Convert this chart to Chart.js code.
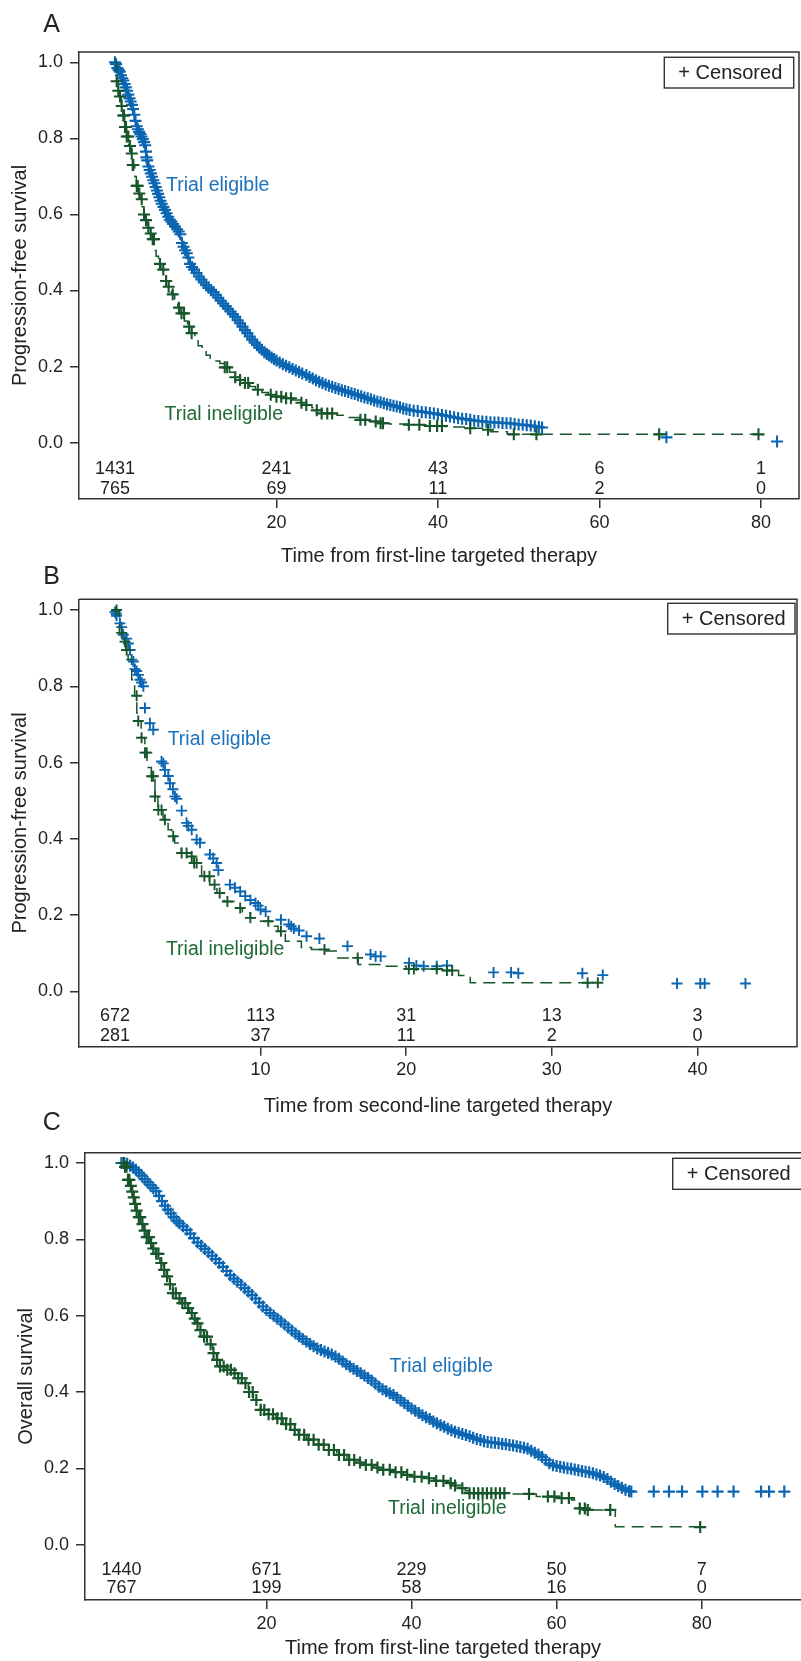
<!DOCTYPE html>
<html><head><meta charset="utf-8">
<script src="https://cdn.jsdelivr.net/npm/chart.js@4.4.1/dist/chart.umd.min.js"></script>
<style>
html,body{margin:0;padding:0;background:#ffffff;overflow:hidden;}
#wrap{position:relative;width:801px;height:1661px;background:#fff;}
canvas{position:absolute;left:0;}
</style></head><body><div id="wrap">
<canvas id="cA" width="801" height="575" style="top:0px;width:801px;height:575px"></canvas>
<canvas id="cB" width="801" height="560" style="top:565px;width:801px;height:560px"></canvas>
<canvas id="cC" width="801" height="556" style="top:1105px;width:801px;height:556px"></canvas>
</div>
<script>
// ---------- shared text / ticks ----------
const panelLetters = ['A', 'B', 'C'];
const groupLabels = ['Trial eligible', 'Trial ineligible'];
const censorLabel = '+ Censored';
const yTickValues = [0, 0.2, 0.4, 0.6, 0.8, 1.0];
const yTickLabels = ['0.0', '0.2', '0.4', '0.6', '0.8', '1.0'];

// ---------- Panel A : PFS from first-line ----------
const aXTitle = 'Time from first-line targeted therapy';
const aYTitle = 'Progression-free survival';
const aXTicks = [20, 40, 60, 80];
const aXTickLabels = ['20', '40', '60', '80'];
const aRiskTimes = [0, 20, 40, 60, 80];
const aRiskEligible = [1431, 241, 43, 6, 1];
const aRiskIneligible = [765, 69, 11, 2, 0];
// trial eligible: censored marks (time, survival)
const aEligT = [0.0,0.15,0.3,0.45,0.6,0.75,0.9,1.05,1.2,1.35,
 1.5,1.65,1.8,1.95,2.1,2.25,2.4,2.55,2.7,2.85,
 3.0,3.15,3.3,3.45,3.6,3.75,3.85,3.9,4.0,4.15,
 4.3,4.45,4.6,4.75,4.9,5.05,5.2,5.35,5.5,5.65,
 5.8,6.0,6.2,6.4,6.6,6.8,7.0,7.2,7.45,7.7,
 7.9,8.1,8.3,8.5,8.7,8.9,9.1,9.3,9.55,9.8,
 10.1,10.4,10.7,11.0,11.3,11.6,11.9,12.2,12.5,12.8,
 13.1,13.4,13.7,14.0,14.3,14.6,14.9,15.2,15.5,15.8,
 16.1,16.4,16.7,17.0,17.3,17.6,17.9,18.2,18.5,18.8,
 19.1,19.4,19.7,20.0,20.4,20.8,21.2,21.6,22.0,22.4,
 22.8,23.2,23.7,24.1,24.5,24.9,25.3,25.7,26.1,26.5,
 26.9,27.3,27.7,28.1,28.5,28.9,29.3,29.7,30.1,30.5,
 30.9,31.3,31.7,32.1,32.5,32.9,33.3,33.7,34.1,34.5,
 34.9,35.3,35.7,36.1,36.5,37.0,37.5,38.0,38.5,39.0,
 39.5,40.0,40.5,41.0,41.5,42.0,42.5,43.0,43.5,44.0,
 44.5,45.0,45.5,46.0,46.5,47.0,47.5,48.0,48.5,49.0,
 49.5,50.0,50.5,51.0,51.5,52.0,52.5,52.9,68.3,82.0];
const aEligS = [1.0,0.995,0.985,0.98,0.975,0.966,0.958,0.952,0.943,0.934,
 0.925,0.915,0.905,0.897,0.888,0.877,0.862,0.846,0.832,0.824,
 0.817,0.811,0.805,0.798,0.79,0.782,0.765,0.75,0.742,0.726,
 0.717,0.708,0.699,0.69,0.682,0.672,0.663,0.654,0.645,0.636,
 0.628,0.62,0.612,0.603,0.594,0.586,0.581,0.575,0.568,0.561,
 0.555,0.548,0.525,0.515,0.506,0.498,0.487,0.47,0.462,0.455,
 0.446,0.437,0.429,0.421,0.414,0.407,0.401,0.396,0.389,0.381,
 0.373,0.366,0.359,0.352,0.345,0.338,0.331,0.322,0.314,0.305,
 0.296,0.288,0.279,0.271,0.263,0.256,0.25,0.244,0.238,0.233,
 0.229,0.224,0.22,0.216,0.211,0.206,0.202,0.198,0.194,0.19,
 0.186,0.182,0.178,0.173,0.169,0.164,0.16,0.157,0.153,0.15,
 0.147,0.144,0.141,0.138,0.136,0.133,0.13,0.128,0.125,0.122,
 0.119,0.117,0.114,0.111,0.108,0.106,0.104,0.101,0.099,0.097,
 0.095,0.093,0.09,0.088,0.086,0.084,0.083,0.081,0.08,0.078,
 0.077,0.075,0.073,0.071,0.069,0.067,0.065,0.063,0.062,0.06,
 0.058,0.057,0.056,0.055,0.054,0.053,0.053,0.052,0.051,0.051,
 0.049,0.048,0.047,0.046,0.045,0.043,0.041,0.04,0.014,0.003];
// trial ineligible: Kaplan-Meier steps
const aInelT = [0,0.2,0.4,0.6,0.8,1.0,1.2,1.45,1.7,1.95,
 2.2,2.45,2.65,2.9,3.1,3.35,3.6,3.85,4.1,4.35,
 4.6,4.85,5.1,5.4,5.7,6.0,6.3,6.65,7.0,7.4,
 7.8,8.2,8.6,9.0,9.5,9.9,10.3,10.8,11.3,11.8,
 12.4,13.0,13.6,14.2,14.9,15.5,16.1,16.7,17.4,18.2,
 19.0,20.0,21.0,22.0,23.0,23.7,24.4,25.0,25.6,27.5,
 29.0,30.3,31.5,32.6,34.0,36.2,38.5,41.0,43.5,45.5,
 46.5,48.6,79.7];
const aInelS = [1.0,0.95,0.925,0.91,0.885,0.86,0.83,0.805,0.78,0.76,
 0.73,0.70,0.675,0.655,0.64,0.62,0.6,0.585,0.565,0.55,
 0.535,0.505,0.49,0.47,0.455,0.44,0.425,0.41,0.39,0.37,
 0.355,0.34,0.32,0.305,0.288,0.27,0.255,0.242,0.23,0.222,
 0.215,0.208,0.198,0.185,0.172,0.165,0.157,0.148,0.139,0.132,
 0.126,0.121,0.117,0.112,0.105,0.099,0.092,0.085,0.077,0.072,
 0.066,0.06,0.056,0.051,0.049,0.047,0.044,0.041,0.038,0.034,
 0.029,0.022,0.022];
const aInelCensT = [0.22,0.42,0.63,0.84,1.04,1.13,1.25,1.37,1.46,1.66,1.87,2.08,2.2,2.28,2.7,2.82,3.02,3.32,3.6,3.85,
 4.14,4.43,4.68,4.84,5.58,5.99,6.34,6.65,7.16,7.93,8.24,8.56,9.19,9.5,13.6,13.9,14.9,15.5,16.1,16.5,
 17.7,19.3,20,20.6,21.2,21.8,23.1,23.7,25,25.6,26.3,26.9,30.4,31,32.3,32.9,33.2,36.4,37.7,39,
 39.9,40.5,44,46.2,49.4,52.2,67.4,79.7];

// ---------- Panel B : PFS from second-line ----------
const bXTitle = 'Time from second-line targeted therapy';
const bYTitle = 'Progression-free survival';
const bXTicks = [10, 20, 30, 40];
const bXTickLabels = ['10', '20', '30', '40'];
const bRiskTimes = [0, 10, 20, 30, 40];
const bRiskEligible = [672, 113, 31, 13, 3];
const bRiskIneligible = [281, 37, 11, 2, 0];
const bEligT = [0.0,0.08,0.11,0.34,0.46,0.57,0.8,0.92,1.03,1.15,
 1.26,1.37,1.49,1.6,1.72,1.83,1.95,2.06,2.4,2.63,
 3.2,3.32,3.43,3.66,3.78,3.98,4.12,4.24,4.58,4.92,
 5.04,5.27,5.61,5.84,6.52,6.75,6.98,7.1,7.9,8.24,
 8.6,8.95,9.3,9.65,9.83,10.0,10.35,11.4,11.93,12.1,
 12.28,12.64,13.16,14.04,15.97,17.55,17.9,18.25,20.2,20.7,
 21.2,22.1,22.8,26.0,27.2,27.7,32.1,33.5,38.6,40.2,
 40.5,43.3];
const bEligS = [0.995,0.99,0.985,0.965,0.955,0.935,0.925,0.912,0.895,0.87,
 0.865,0.845,0.84,0.83,0.817,0.81,0.8,0.743,0.703,0.686,
 0.603,0.598,0.581,0.565,0.546,0.53,0.511,0.505,0.474,0.442,
 0.434,0.424,0.398,0.39,0.359,0.349,0.337,0.318,0.28,0.272,
 0.262,0.25,0.24,0.232,0.225,0.215,0.21,0.188,0.176,0.171,
 0.165,0.16,0.145,0.139,0.119,0.097,0.092,0.092,0.075,0.068,
 0.066,0.066,0.068,0.05,0.05,0.048,0.048,0.043,0.021,0.021,
 0.021,0.021];
const bInelT = [0,0.3,0.65,0.75,0.9,1.15,1.35,1.5,1.6,1.8,
 2.05,2.2,2.5,2.75,2.95,3.3,3.65,3.9,4.1,4.55,
 5.1,5.4,5.95,6.5,7.0,7.5,8.2,8.75,9.3,10.0,
 10.7,11.2,11.7,12.8,13.5,14.5,15.2,16.7,18.4,20.0,
 22.5,23.6,24.4,33.2];
const bInelS = [1.0,0.94,0.917,0.895,0.87,0.817,0.775,0.73,0.709,0.665,
 0.626,0.587,0.564,0.511,0.476,0.45,0.424,0.407,0.389,0.363,
 0.354,0.337,0.302,0.28,0.258,0.236,0.219,0.206,0.193,0.184,
 0.171,0.158,0.132,0.115,0.11,0.106,0.088,0.071,0.066,0.059,
 0.055,0.042,0.023,0.023];
const bInelCensT = [0.11,0.46,0.69,0.8,1.49,1.6,1.83,2.06,2.18,2.52,2.63,2.75,2.98,3.2,3.43,4.0,4.58,4.92,5.27,5.44,
 5.61,6.14,6.49,6.84,7.19,7.72,8.6,9.3,10.53,11.4,14.39,16.67,20.18,20.53,22.1,22.8,23.16,32.46,33.16];

// ---------- Panel C : OS from first-line ----------
const cXTitle = 'Time from first-line targeted therapy';
const cYTitle = 'Overall survival';
const cXTicks = [20, 40, 60, 80];
const cXTickLabels = ['20', '40', '60', '80'];
const cRiskTimes = [0, 20, 40, 60, 80];
const cRiskEligible = [1440, 671, 229, 50, 7];
const cRiskIneligible = [767, 199, 58, 16, 0];
const cEligT = [0.0,0.4,0.8,1.2,1.6,2.0,2.4,2.8,3.2,3.6,
 4.0,4.4,4.8,5.2,5.6,6.0,6.4,6.8,7.2,7.6,
 8.0,8.5,9.0,9.5,10.0,10.5,11.0,11.5,12.0,12.5,
 13.0,13.5,14.0,14.5,15.0,15.5,16.0,16.5,17.0,17.5,
 18.0,18.5,19.0,19.5,20.0,20.5,21.0,21.5,22.0,22.5,
 23.0,23.5,24.0,24.5,25.0,25.5,26.0,26.5,27.0,27.5,
 28.0,28.5,29.0,29.5,30.0,30.5,31.0,31.5,32.0,32.5,
 33.0,33.5,34.0,34.5,35.0,35.5,36.0,36.5,37.0,37.5,
 38.0,38.5,39.0,39.5,40.0,40.5,41.0,41.5,42.0,42.5,
 43.0,43.5,44.0,44.5,45.0,45.5,46.0,46.5,47.0,47.5,
 48.0,48.5,49.0,49.5,50.0,50.5,51.0,51.5,52.0,52.5,
 53.0,53.5,54.0,54.5,55.0,55.5,56.0,56.5,57.0,57.5,
 58.0,58.5,59.0,59.5,60.0,60.5,61.0,61.5,62.0,62.5,
 63.0,63.5,64.0,64.5,65.0,65.5,66.0,66.5,67.0,67.5,
 68.0,68.5,69.0,69.5,70.0,70.3,73.4,75.5,77.3,80.1,
 82.2,84.4,88.2,89.3,91.4];
const cEligS = [1.0,1.0,0.998,0.993,0.988,0.982,0.975,0.967,0.958,0.95,
 0.942,0.934,0.926,0.914,0.9,0.888,0.878,0.868,0.858,0.849,
 0.842,0.834,0.825,0.815,0.803,0.792,0.783,0.775,0.766,0.757,
 0.748,0.738,0.728,0.717,0.706,0.697,0.689,0.681,0.672,0.663,
 0.654,0.645,0.634,0.624,0.615,0.607,0.6,0.592,0.585,0.577,
 0.569,0.561,0.553,0.546,0.539,0.532,0.526,0.52,0.514,0.51,
 0.506,0.502,0.498,0.493,0.487,0.48,0.473,0.467,0.461,0.455,
 0.449,0.443,0.437,0.43,0.422,0.414,0.407,0.402,0.397,0.392,
 0.385,0.378,0.371,0.364,0.357,0.351,0.345,0.339,0.334,0.329,
 0.323,0.318,0.313,0.309,0.304,0.3,0.296,0.293,0.29,0.287,
 0.284,0.28,0.277,0.274,0.271,0.269,0.268,0.267,0.266,0.264,
 0.263,0.261,0.26,0.258,0.256,0.254,0.251,0.246,0.241,0.236,
 0.23,0.222,0.213,0.208,0.206,0.204,0.202,0.2,0.199,0.197,
 0.195,0.193,0.191,0.19,0.187,0.184,0.181,0.177,0.172,0.165,
 0.159,0.154,0.149,0.144,0.14,0.139,0.139,0.139,0.139,0.139,
 0.139,0.139,0.139,0.139,0.139];
const cInelT = [0,0.5,0.9,1.2,1.4,1.65,1.85,2.1,2.35,2.65,
 3.0,3.45,3.9,4.3,4.7,5.3,5.75,6.2,6.6,7.1,
 7.7,8.3,8.9,9.4,9.9,10.3,10.8,11.3,11.9,12.6,
 13.1,13.6,14.5,15.4,16.1,16.8,17.5,18.2,19.2,20.3,
 21.3,22.3,23.4,24.4,25.5,26.9,28.3,29.7,31.1,32.2,
 33.3,34.7,36.1,37.5,38.9,40.3,41.7,43.1,44.5,45.6,
 46.7,47.4,48.0,53.7,57.2,60.7,62.1,63.2,64.3,68.1,
 79.8];
const cInelS = [1.0,0.99,0.956,0.94,0.925,0.91,0.893,0.875,0.858,0.84,
 0.823,0.806,0.79,0.776,0.762,0.738,0.72,0.703,0.682,0.659,
 0.645,0.633,0.62,0.607,0.592,0.58,0.562,0.545,0.525,0.502,
 0.484,0.467,0.458,0.449,0.436,0.423,0.4,0.379,0.353,0.342,
 0.331,0.316,0.301,0.288,0.275,0.262,0.248,0.235,0.222,0.215,
 0.209,0.202,0.196,0.19,0.183,0.178,0.174,0.167,0.161,0.155,
 0.148,0.141,0.135,0.133,0.126,0.122,0.117,0.095,0.091,0.047,
 0.046];
const cInelCensT = [0.3,0.5,0.7,0.9,1.1,1.3,1.5,1.7,1.9,2.1,2.4,2.6,2.9,3.2,3.5,3.8,4.1,4.4,4.8,5.1,
 5.5,5.9,6.3,6.7,7.1,7.5,8.0,8.4,8.8,9.2,9.7,10.1,10.5,10.9,11.4,11.8,12.3,12.7,13.2,13.6,
 14.1,14.6,15.1,15.6,16.1,16.6,17.1,17.6,18.1,18.6,19.2,19.7,20.3,20.9,21.5,22.1,22.7,23.3,23.9,24.5,
 25.2,25.8,26.5,27.2,27.9,28.6,29.3,30.0,30.7,31.4,32.1,32.9,33.7,34.5,35.3,36.1,37.0,37.8,38.6,39.4,
 40.4,41.4,42.4,43.4,44.4,45.4,46.0,47.0,48.0,48.6,49.2,49.8,50.4,51.0,51.6,52.2,52.8,56.2,58.8,59.7,
 60.7,61.7,63.2,63.9,64.3,67.4,79.8];

// ---------- styling ----------
const FONT = '"Liberation Sans", Arial, Helvetica, sans-serif';
Chart.defaults.font.family = FONT;
const INK = '#222222', AXIS = '#333333';
const BLUE = '#0a66b2', BLUE_TXT = '#1c72bc';
const GREEN = '#17552b', GREEN_TXT = '#1f6a37';

function stepAt(T, S, t) {
  let v = S[0];
  for (let i = 0; i < T.length; i++) { if (T[i] <= t + 1e-9) v = S[i]; else break; }
  return v;
}
function pts(T, S) {
  const n = Math.min(T.length, S.length), out = [];
  for (let i = 0; i < n; i++) out.push({x: T[i], y: S[i]});
  return out;
}
function censorPts(CT, T, S) { return CT.map(t => ({x: t, y: stepAt(T, S, t)})); }

function annotPlugin(P) {
  return {
    id: 'annot' + P.letter,
    afterDraw(chart) {
      const ctx = chart.ctx, ca = chart.chartArea, xs = chart.scales.x, ys = chart.scales.y;
      ctx.save();
      // remaining frame sides
      ctx.strokeStyle = AXIS; ctx.lineWidth = 1.5;
      ctx.beginPath();
      ctx.moveTo(ca.left, ca.top); ctx.lineTo(ca.right, ca.top);
      if (P.rightFrame) ctx.lineTo(ca.right, ca.bottom);
      ctx.stroke();
      // numbers at risk
      ctx.font = '18px ' + FONT; ctx.fillStyle = INK;
      ctx.textAlign = 'center'; ctx.textBaseline = 'middle';
      P.riskTimes.forEach((t, i) => {
        const x = xs.getPixelForValue(t);
        ctx.fillText(String(P.riskE[i]), x, ys.getPixelForValue(P.riskRows[0]));
        ctx.fillText(String(P.riskI[i]), x, ys.getPixelForValue(P.riskRows[1]));
      });
      // group labels
      ctx.font = '19.5px ' + FONT; ctx.textAlign = 'left';
      ctx.fillStyle = BLUE_TXT;
      ctx.fillText(groupLabels[0], xs.getPixelForValue(P.lblE[0]), ys.getPixelForValue(P.lblE[1]));
      ctx.fillStyle = GREEN_TXT;
      ctx.fillText(groupLabels[1], xs.getPixelForValue(P.lblI[0]), ys.getPixelForValue(P.lblI[1]));
      // censored legend box
      const b = P.box;
      ctx.fillStyle = '#ffffff'; ctx.fillRect(b.x, b.y, b.w, b.h);
      ctx.strokeStyle = AXIS; ctx.lineWidth = 1.4; ctx.strokeRect(b.x, b.y, b.w, b.h);
      ctx.font = '20px ' + FONT; ctx.fillStyle = INK; ctx.textAlign = 'center';
      ctx.fillText(censorLabel, b.x + 66, b.y + b.h / 2 + 0.5);
      // panel letter
      ctx.font = '25px ' + FONT; ctx.fillStyle = INK; ctx.textAlign = 'center';
      ctx.fillText(P.letter, 51.7, P.letterY);
      ctx.restore();
    }
  };
}

function buildPanel(P) {
  const gridOpts = {display: true, drawOnChartArea: false, drawTicks: true, tickLength: 9, color: AXIS, lineWidth: 1.5};
  const borderOpts = {display: true, color: AXIS, width: 1.5};
  return new Chart(document.getElementById(P.canvas), {
    type: 'scatter',
    data: {datasets: [
      {label: groupLabels[1] + ' (censored)', data: censorPts(P.inCT, P.inT, P.inS), showLine: false,
       pointStyle: 'cross', pointRadius: P.markR, pointBorderWidth: P.markW, pointBorderColor: GREEN,
       pointBackgroundColor: GREEN, borderColor: GREEN, clip: false},
      {type: 'line', label: groupLabels[1], data: pts(P.inT, P.inS), stepped: true, borderColor: GREEN,
       borderWidth: 1.5, borderDash: [12, 7], pointRadius: 0, fill: false, clip: false},
      {label: groupLabels[0] + ' (censored)', data: pts(P.elT, P.elS), showLine: false,
       pointStyle: 'cross', pointRadius: P.markR, pointBorderWidth: P.markW, pointBorderColor: BLUE,
       pointBackgroundColor: BLUE, borderColor: BLUE, clip: false}
    ]},
    options: {
      responsive: false, animation: false, devicePixelRatio: 1, events: [],
      layout: {autoPadding: false, padding: {top: P.padTop, right: P.padRight, left: 0, bottom: 0}},
      plugins: {legend: {display: false}, tooltip: {enabled: false}},
      scales: {
        x: {
          type: 'linear', position: 'bottom', min: P.xMin, max: P.xMax,
          afterBuildTicks: s => { s.ticks = P.xTicks.map(v => ({value: v})); },
          afterFit: s => { s.height = P.xHeight; s.paddingLeft = 0; s.paddingRight = 0; },
          grid: gridOpts, border: borderOpts,
          ticks: {font: {size: 18}, color: INK, padding: 4, maxRotation: 0, autoSkip: false,
                  callback: (v, i) => P.xTickLabels[i]},
          title: {display: true, text: P.xTitle, color: INK, font: {size: 20, lineHeight: 1},
                  padding: {top: 0, bottom: P.xTitlePadB}}
        },
        y: {
          type: 'linear', position: 'left', min: P.yMin, max: P.yMax,
          afterBuildTicks: s => { s.ticks = yTickValues.map(v => ({value: v})); },
          afterFit: s => { s.width = P.yWidth; s.paddingTop = 0; s.paddingBottom = 0; },
          grid: gridOpts, border: borderOpts,
          ticks: {font: {size: 18}, color: INK, padding: 7, autoSkip: false,
                  callback: (v, i) => yTickLabels[i]},
          title: {display: true, text: P.yTitle, color: INK, font: {size: 20, lineHeight: 1},
                  padding: {top: P.yTitlePadT, bottom: 0}}
        }
      }
    },
    plugins: [annotPlugin(P)]
  });
}

buildPanel({
  canvas: 'cA', letter: panelLetters[0], letterY: 25,
  padTop: 52, padRight: 2, yWidth: 79, xHeight: 76, xTitlePadB: 8.3, yTitlePadT: 10.7,
  xMin: -4.45, xMax: 84.72, yMin: -0.148, yMax: 1.027, rightFrame: true, markR: 6, markW: 2.1,
  xTicks: aXTicks, xTickLabels: aXTickLabels, xTitle: aXTitle, yTitle: aYTitle,
  elT: aEligT, elS: aEligS, inT: aInelT, inS: aInelS, inCT: aInelCensT,
  riskTimes: aRiskTimes, riskE: aRiskEligible, riskI: aRiskIneligible, riskRows: [-0.070, -0.1225],
  lblE: [6.33, 0.677], lblI: [6.14, 0.075],
  box: {x: 664.3, y: 57.3, w: 129.4, h: 30.7}
});
buildPanel({
  canvas: 'cB', letter: panelLetters[1], letterY: 12.4,
  padTop: 34.3, padRight: 4, yWidth: 79, xHeight: 78.3, xTitlePadB: 9, yTitlePadT: 10.7,
  xMin: -2.47, xMax: 46.84, yMin: -0.1447, yMax: 1.028, rightFrame: true, markR: 5.5, markW: 1.9,
  xTicks: bXTicks, xTickLabels: bXTickLabels, xTitle: bXTitle, yTitle: bYTitle,
  elT: bEligT, elS: bEligS, inT: bInelT, inS: bInelS, inCT: bInelCensT,
  riskTimes: bRiskTimes, riskE: bRiskEligible, riskI: bRiskIneligible, riskRows: [-0.064, -0.1166],
  lblE: [3.62, 0.659], lblI: [3.5, 0.111],
  box: {x: 667.7, y: 38.3, w: 127.3, h: 30.7}
});
buildPanel({
  canvas: 'cC', letter: panelLetters[2], letterY: 18.3,
  padTop: 47.7, padRight: 0, yWidth: 85, xHeight: 61, xTitlePadB: 2.7, yTitlePadT: 16.8,
  xMin: -5.02, xMax: 93.7, yMin: -0.145, yMax: 1.027, rightFrame: false, markR: 6, markW: 2.2,
  xTicks: cXTicks, xTickLabels: cXTickLabels, xTitle: cXTitle, yTitle: cYTitle,
  elT: cEligT, elS: cEligS, inT: cInelT, inS: cInelS, inCT: cInelCensT,
  riskTimes: cRiskTimes, riskE: cRiskEligible, riskI: cRiskIneligible, riskRows: [-0.066, -0.114],
  lblE: [36.97, 0.466], lblI: [36.77, 0.095],
  box: {x: 672.7, y: 53.3, w: 140, h: 31}
});
</script></body></html>
